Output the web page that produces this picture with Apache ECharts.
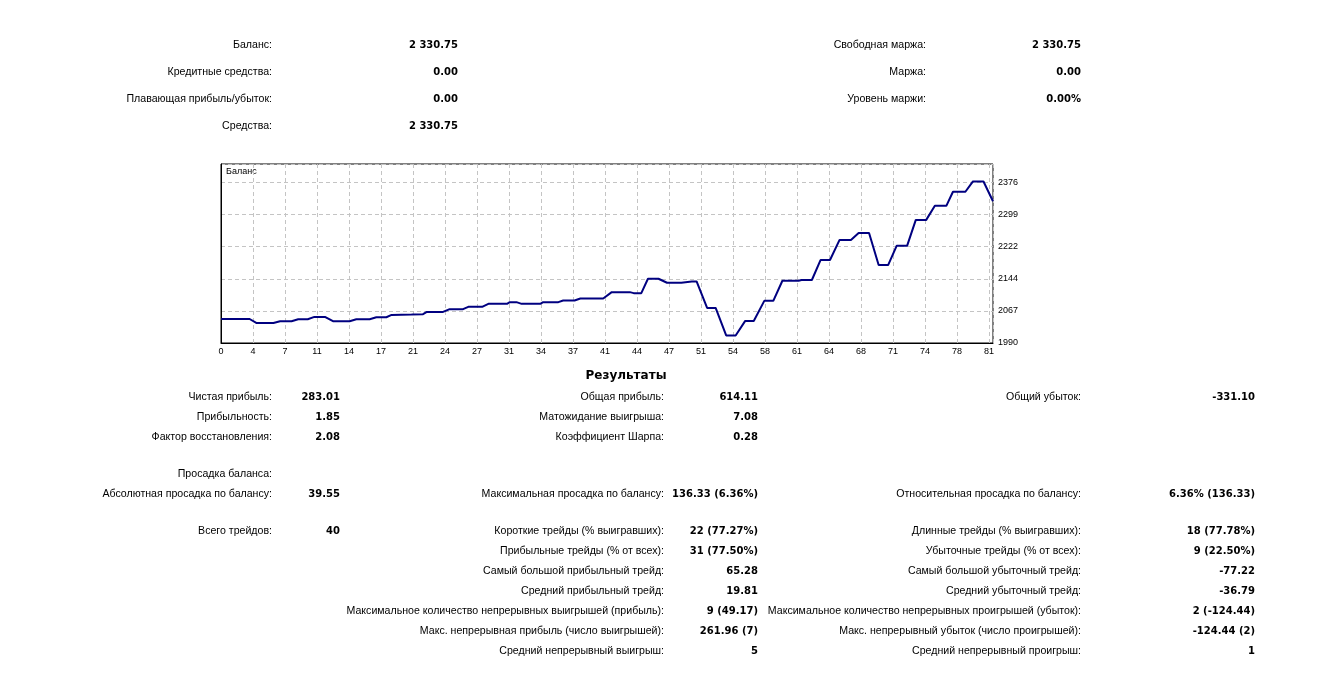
<!DOCTYPE html>
<html>
<head>
<meta charset="utf-8">
<script src="https://cdn.jsdelivr.net/npm/echarts@6/dist/echarts.min.js"></script>
<style>
html,body{margin:0;padding:0;background:#fff;}
#chart{width:1344px;height:673px;}
</style>
</head>
<body>
<div id="chart"></div>
<script>
// ---- Balance curve (trade index, balance) ----
const tradeIndex = [0,3.02,3.72,5.53,6.23,7.44,8.14,9.15,9.85,10.96,11.81,13.57,14.27,15.68,16.38,17.44,17.99,20.1,21.31,21.71,23.42,24.12,25.53,26.08,27.54,28.2,30.16,30.46,31.16,31.71,33.67,33.98,35.58,36.09,37.29,37.9,40.31,41.21,43.12,43.53,44.33,45.03,46.14,47.04,48.55,49.66,50.16,51.27,52.17,53.28,54.28,55.29,56.19,57.3,58.25,59.21,60.92,61.22,62.32,63.23,64.23,65.24,66.44,67.25,68.35,69.36,70.36,71.27,72.37,73.28,74.38,75.29,76.5,77.2,78.51,79.31,80.42,81.42];
const balance = [2047.74,2047.74,2038.3,2038.3,2042.4,2042.4,2047.2,2047.2,2052.7,2052.7,2042.4,2042.4,2047.2,2047.2,2052.0,2052.0,2057.5,2058.5,2059.2,2064.8,2064.8,2071.3,2071.3,2076.9,2076.9,2084.1,2084.1,2088.2,2088.2,2084.1,2084.1,2088.2,2088.2,2092.3,2092.3,2097.1,2097.1,2112.3,2112.3,2109.9,2109.9,2144.52,2144.52,2134.8,2134.8,2138.0,2138.0,2074.4,2074.4,2008.19,2008.19,2043.1,2043.1,2091.3,2091.3,2139.6,2139.6,2141.5,2141.5,2189.5,2189.5,2237.8,2237.8,2254.6,2254.6,2177.4,2177.4,2224.0,2224.0,2286.0,2286.0,2319.8,2319.8,2353.6,2353.6,2378.4,2378.4,2330.75];
const xTickLabels = ['0','4','7','11','14','17','21','24','27','31','34','37','41','44','47','51','54','58','61','64','68','71','74','78','81'];
const yTickLabels = ['1990','2067','2144','2222','2299','2376'];
const chartTitle = 'Баланс';

// ---- Account summary ----
const accLeftLabels = ['Баланс:','Кредитные средства:','Плавающая прибыль/убыток:','Средства:'];
const accLeftValues = ['2 330.75','0.00','0.00','2 330.75'];
const accRightLabels = ['Свободная маржа:','Маржа:','Уровень маржи:'];
const accRightValues = ['2 330.75','0.00','0.00%'];

// ---- Results ----
const resultsTitle = 'Результаты';
const col1Labels = ['Чистая прибыль:','Прибыльность:','Фактор восстановления:','Просадка баланса:','Абсолютная просадка по балансу:','Всего трейдов:','','','','','',''];
const col1Values = ['283.01','1.85','2.08','','39.55','40','','','','','',''];
const col2Labels = ['Общая прибыль:','Матожидание выигрыша:','Коэффициент Шарпа:','','Максимальная просадка по балансу:','Короткие трейды (% выигравших):','Прибыльные трейды (% от всех):','Самый большой прибыльный трейд:','Средний прибыльный трейд:','Максимальное количество непрерывных выигрышей (прибыль):','Макс. непрерывная прибыль (число выигрышей):','Средний непрерывный выигрыш:'];
const col2Values = ['614.11','7.08','0.28','','136.33 (6.36%)','22 (77.27%)','31 (77.50%)','65.28','19.81','9 (49.17)','261.96 (7)','5'];
const col3Labels = ['Общий убыток:','','','','Относительная просадка по балансу:','Длинные трейды (% выигравших):','Убыточные трейды (% от всех):','Самый большой убыточный трейд:','Средний убыточный трейд:','Максимальное количество непрерывных проигрышей (убыток):','Макс. непрерывный убыток (число проигрышей):','Средний непрерывный проигрыш:'];
const col3Values = ['-331.10','','','','6.36% (136.33)','18 (77.78%)','9 (22.50%)','-77.22','-36.79','2 (-124.44)','-124.44 (2)','1'];

// ---- Layout ----
const LABEL_FONT = '10.6px "Liberation Sans", Arial, sans-serif';
const VALUE_FONT = 'bold 10px "DejaVu Sans", sans-serif';
const AXIS_FONT = '"Liberation Sans", Arial, sans-serif';
const accRowsY = [45, 72, 99, 126];
const resRowsY = [397, 417, 437, 474, 494, 531, 551, 571, 591, 611, 631, 651];
const graphics = [];
function addText(x, y, s, align, font) {
  if (!s) return;
  graphics.push({type:'text', x:x, y:y, silent:true, style:{text:s, textAlign:align, textVerticalAlign:'middle', fill:'#000', font:font}});
}
function addColumn(labels, values, rowsY, labelRight, valueRight) {
  labels.forEach((l, i) => addText(labelRight, rowsY[i], l, 'right', LABEL_FONT));
  values.forEach((v, i) => addText(valueRight, rowsY[i], v, 'right', VALUE_FONT));
}
addColumn(accLeftLabels, accLeftValues, accRowsY, 272, 458);
addColumn(accRightLabels, accRightValues, accRowsY, 926, 1081);
addText(626, 376, resultsTitle, 'center', 'bold 12px "DejaVu Sans", sans-serif');
addColumn(col1Labels, col1Values, resRowsY, 272, 340);
addColumn(col2Labels, col2Values, resRowsY, 664, 758);
addColumn(col3Labels, col3Values, resRowsY, 1081, 1255);
addText(226, 172, chartTitle, 'left', '9px "Liberation Sans", Arial, sans-serif');

const X_STEP = 81 / 24, X_MAX = X_STEP * 24.125;
const Y_MIN = 1990, Y_STEP = 77.2, Y_MAX = 1990 + 77.2 * 5.575;

const chart = echarts.init(document.getElementById('chart'));
chart.setOption({
  animation: false,
  backgroundColor: '#fff',
  grid: {left: 221, right: 351, top: 164, bottom: 330, show: true, borderColor: '#000', borderWidth: 1, backgroundColor: 'transparent'},
  xAxis: {
    type: 'value', min: 0, max: X_MAX, interval: X_STEP,
    axisLine: {show: true, lineStyle: {color: '#000', width: 1}},
    axisTick: {show: false},
    axisLabel: {color: '#000', fontSize: 9, fontFamily: AXIS_FONT, margin: 4, showMaxLabel: false,
      formatter: v => { const k = Math.round(v / X_STEP); return (Math.abs(v - k * X_STEP) < 0.01 && xTickLabels[k] !== undefined) ? xTickLabels[k] : ''; }},
    splitLine: {show: true, lineStyle: {color: '#c4c4c4', type: [4, 3], width: 1}}
  },
  yAxis: {
    type: 'value', position: 'right', min: Y_MIN, max: Y_MAX, interval: Y_STEP,
    axisLine: {show: true, lineStyle: {color: '#000', width: 1}},
    axisTick: {show: false},
    axisLabel: {color: '#000', fontSize: 9, fontFamily: AXIS_FONT, margin: 5, showMaxLabel: false,
      formatter: v => { const k = Math.round((v - Y_MIN) / Y_STEP); return (Math.abs(v - (Y_MIN + k * Y_STEP)) < 0.01 && yTickLabels[k] !== undefined) ? yTickLabels[k] : ''; }},
    splitLine: {show: true, lineStyle: {color: '#c4c4c4', type: [4, 3], width: 1}}
  },
  series: [{
    type: 'line', showSymbol: false, silent: true,
    data: tradeIndex.map((x, i) => [x, balance[i]]),
    lineStyle: {color: '#000080', width: 2},
    clip: true
  }],
  graphic: graphics
});
</script>
</body>
</html>
